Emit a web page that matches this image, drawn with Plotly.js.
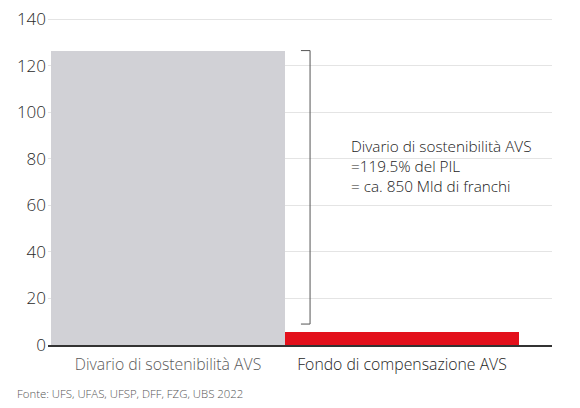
<!DOCTYPE html>
<html>
<head>
<meta charset="utf-8">
<script src="https://cdn.plot.ly/plotly-3.0.1.min.js"></script>
<style>
  html, body { margin: 0; padding: 0; background: #fff; }
  #chart { width: 580px; height: 408px; }
</style>
</head>
<body>
<div id="chart"></div>
<script>
// data (in % of GDP)
const categories = ['Divario di sostenibilità AVS', 'Fondo di compensazione AVS'];
const values = [126.5, 5.5];
const labelColors = ['#5a5a5a', '#1e1e1e'];
const yTicks = [0, 20, 40, 60, 80, 100, 120, 140];
const noteLines = ['Divario di sostenibilità AVS', '=119.5% del PIL', '= ca. 850 Mld di franchi'];
const sourceText = 'Fonte: UFS, UFAS, UFSP, DFF, FZG, UBS 2022';

const FONT = '"Open Sans", "Noto Sans", sans-serif';

// bracket spans from top of the gap bar down to just above the fund bar
const bracketTop = values[0];
const bracketBottom = values[1] + 3.5;
const bracketMid = (bracketTop + bracketBottom) / 2;
const bx = 0.607;   // bracket x in axis units (right of the grey bar)
const bxl = 0.568;

const bars = [
    {
        type: 'bar', x: [categories[0]], y: [values[0]],
        marker: {color: '#d1d1d6'}, width: 1, hoverinfo: 'skip'
    },
    {
        type: 'bar', x: [categories[1]], y: [values[1]],
        marker: {color: '#e3101b'}, width: 1, hoverinfo: 'skip'
    },
    {
        type: 'scatter', mode: 'markers', x: [bx + 0.016], y: [bracketMid],
        marker: {symbol: 'triangle-right', size: 8, color: '#222'},
        hoverinfo: 'skip'
    }
];

const layout = {
    width: 580,
    height: 408,
    margin: {l: 48, r: 28, t: 18, b: 63},
    paper_bgcolor: '#fff',
    plot_bgcolor: '#fff',
    font: {family: FONT, size: 15, color: '#333', weight: 300},
    showlegend: false,
    barmode: 'overlay',
    bargap: 0,
    xaxis: {
        type: 'category',
        range: [-0.513, 1.641],
        tickvals: categories,
        ticktext: categories.map((c, i) => '<span style="color:' + labelColors[i] + '">' + c + '</span>'),
        tickfont: {size: 15.8, weight: 300},
        ticks: '',
        ticklabelstandoff: 5,
        showgrid: false,
        showline: true,
        linecolor: '#333',
        linewidth: 1.5,
        zeroline: false,
        fixedrange: true
    },
    yaxis: {
        range: [0, 140.5],
        tickvals: yTicks,
        ticks: '',
        ticklabelstandoff: 1,
        tickfont: {size: 17, color: '#2a2a2a', weight: 300},
        gridcolor: '#e4e4e4',
        gridwidth: 1,
        zeroline: false,
        showline: false,
        fixedrange: true
    },
    shapes: [
        {type: 'line', xref: 'x', yref: 'y', x0: bx, x1: bx, y0: bracketBottom, y1: bracketTop,
         line: {color: '#555', width: 1}},
        {type: 'line', xref: 'x', yref: 'y', x0: bxl, x1: bx, y0: bracketTop, y1: bracketTop,
         line: {color: '#555', width: 1}},
        {type: 'line', xref: 'x', yref: 'y', x0: bxl, x1: bx, y0: bracketBottom, y1: bracketBottom,
         line: {color: '#555', width: 1}}
    ],
    annotations: [
        {
            xref: 'x', yref: 'y', x: 0.774, y: bracketMid + 9,
            xanchor: 'left', yanchor: 'middle', align: 'left',
            text: noteLines.join('<br>'), showarrow: false,
            font: {size: 15.3, color: '#1a1a1a', weight: 300}
        },
        {
            xref: 'paper', yref: 'paper', x: -0.0655, y: -0.147,
            xanchor: 'left', yanchor: 'middle',
            text: sourceText, showarrow: false,
            font: {size: 11.4, color: '#555', weight: 300}
        }
    ]
};

Plotly.newPlot('chart', bars, layout, {displayModeBar: false, staticPlot: true});
</script>
</body>
</html>
